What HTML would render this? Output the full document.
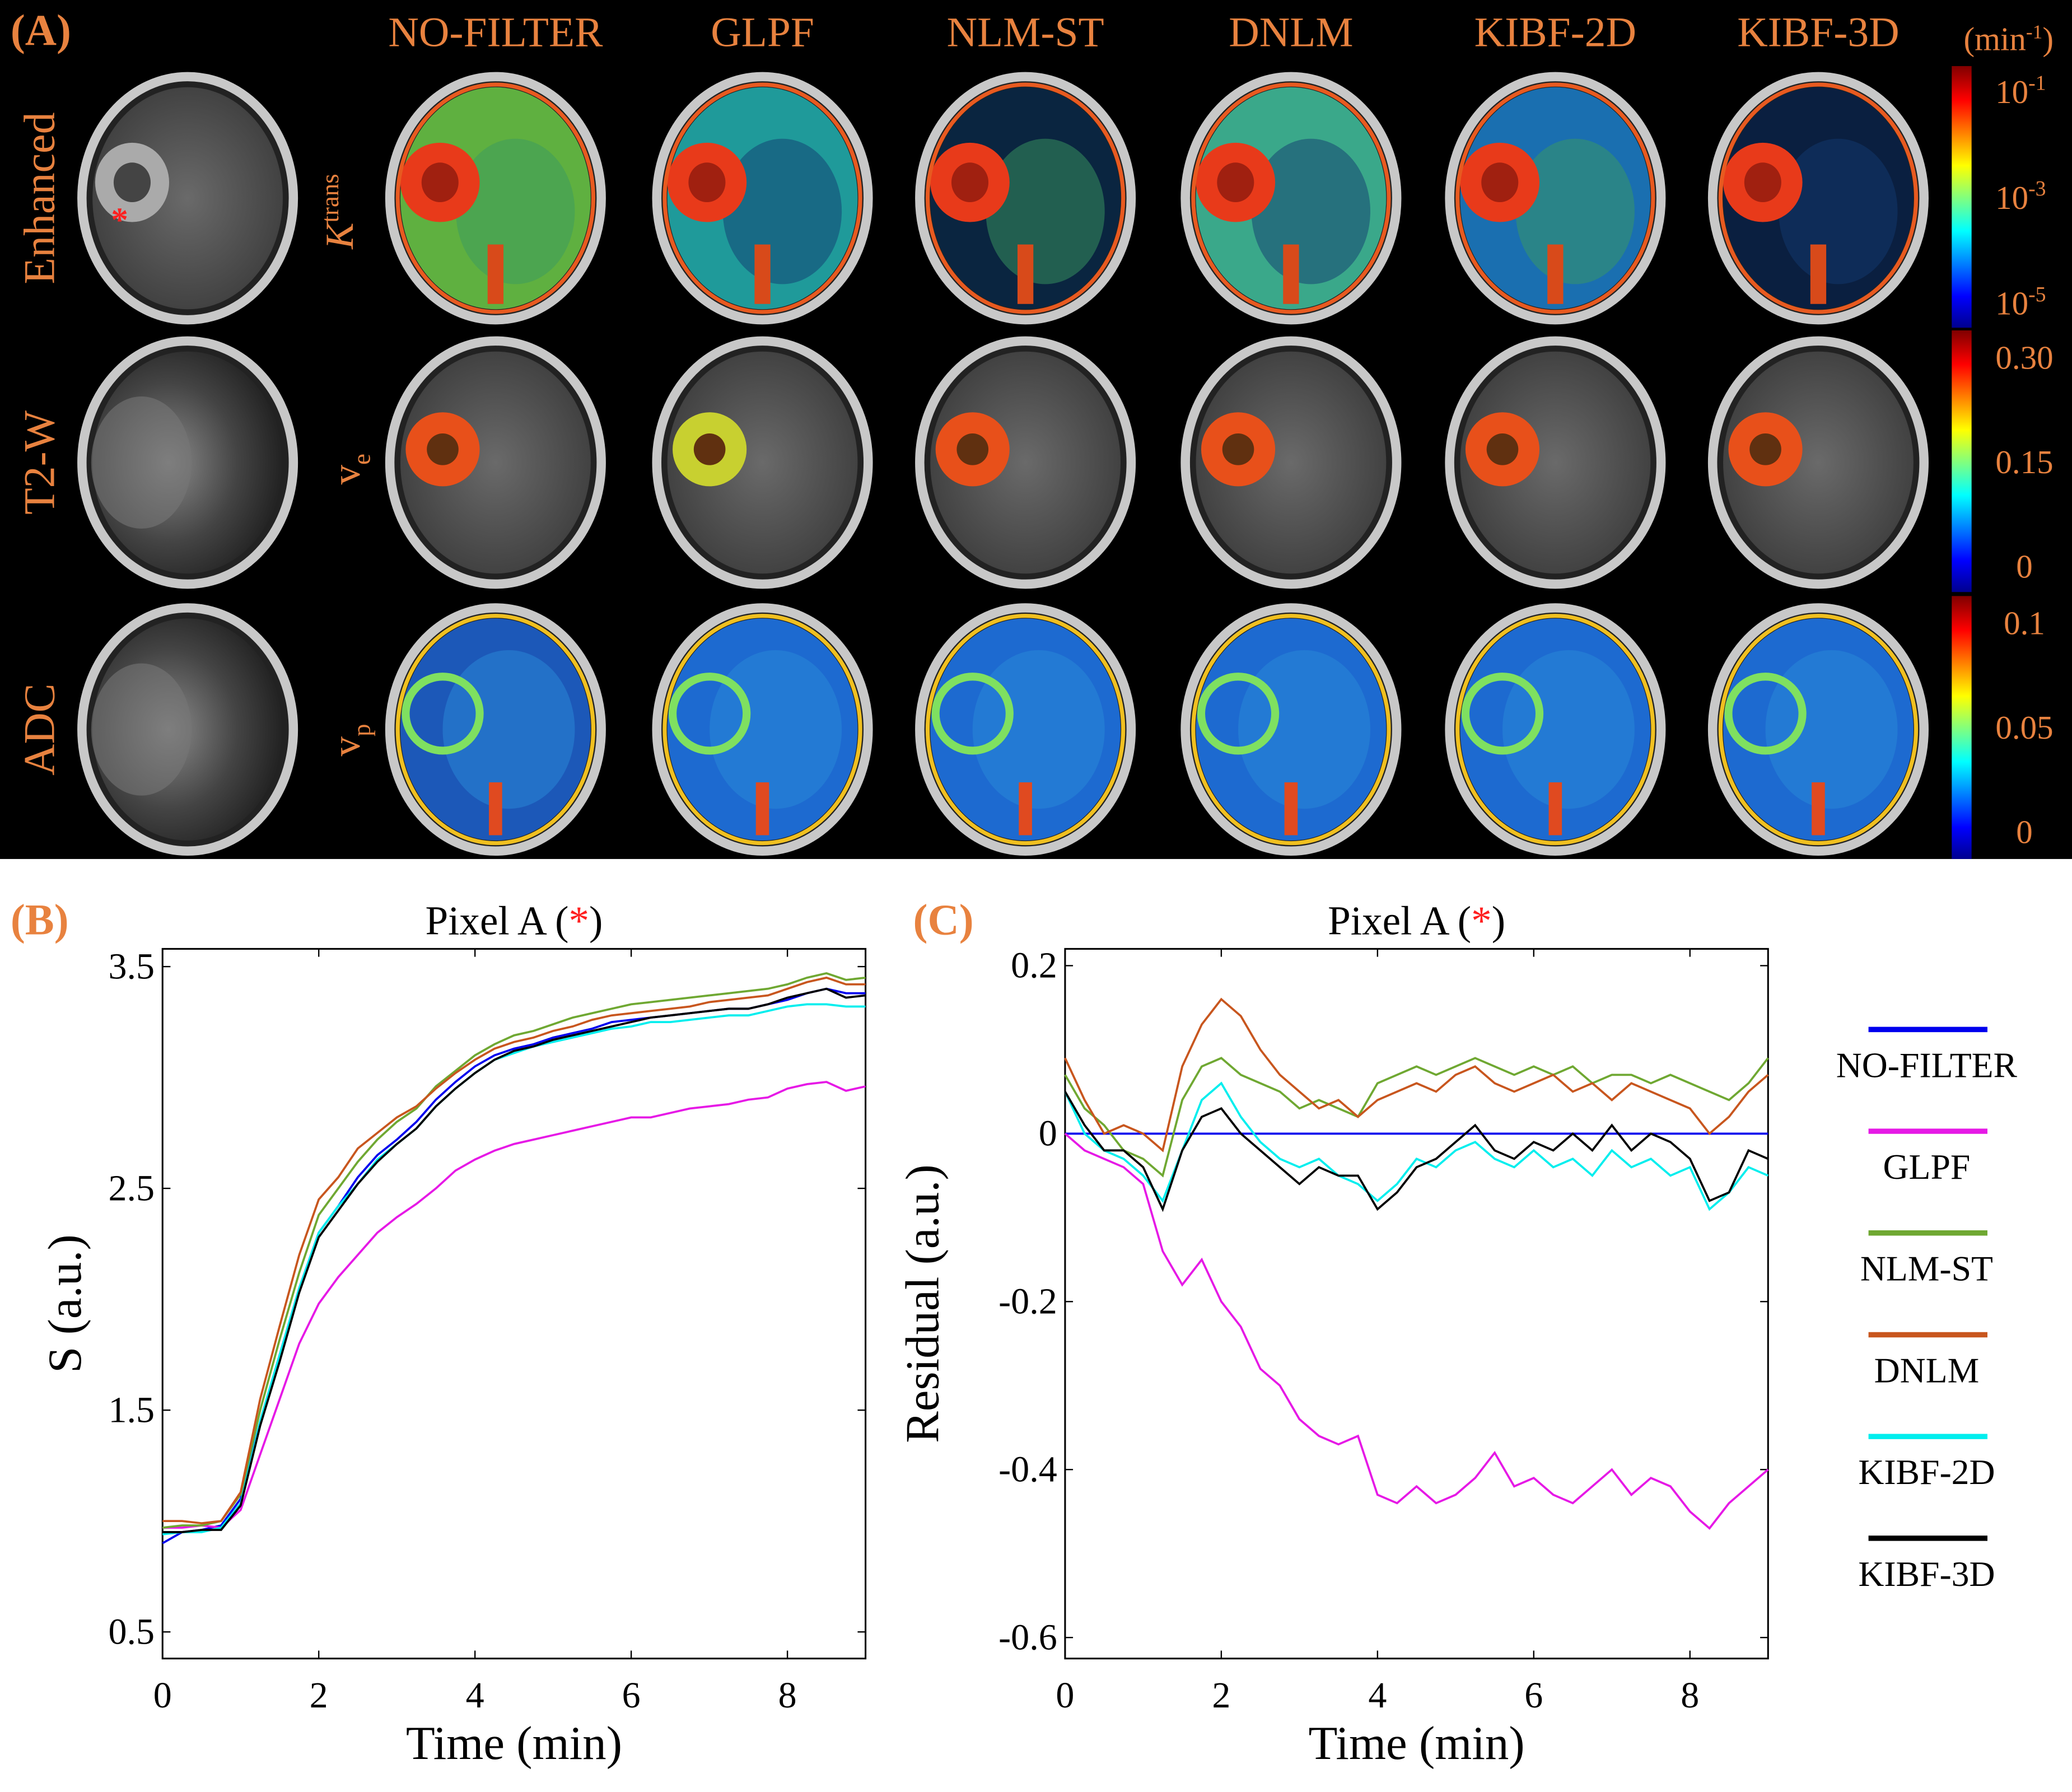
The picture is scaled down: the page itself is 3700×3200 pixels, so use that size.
<!DOCTYPE html>
<html><head><meta charset="utf-8"><style>
html,body{margin:0;padding:0;background:#fff}
svg{display:block}
text{font-family:"Liberation Serif",serif}
</style></head><body>
<svg id="fig" width="3700" height="3200" viewBox="0 0 1568 1356" preserveAspectRatio="none" xmlns="http://www.w3.org/2000/svg">
<defs>
<linearGradient id="jet" x1="0" y1="1" x2="0" y2="0">
<stop offset="0" stop-color="#00008f"/><stop offset="0.12" stop-color="#0000ff"/><stop offset="0.37" stop-color="#00ffff"/><stop offset="0.62" stop-color="#ffff00"/><stop offset="0.87" stop-color="#ff0000"/><stop offset="1" stop-color="#800000"/>
</linearGradient>
<radialGradient id="gray" cx="0.5" cy="0.5" r="0.6"><stop offset="0" stop-color="#6a6a6a"/><stop offset="1" stop-color="#3a3a3a"/></radialGradient>
<radialGradient id="t2" cx="0.4" cy="0.5" r="0.6"><stop offset="0" stop-color="#8a8a8a"/><stop offset="0.6" stop-color="#444"/><stop offset="1" stop-color="#222"/></radialGradient>
</defs>
<rect x="0" y="0" width="1568" height="650" fill="#000"/>
<g id="topPanel"></g>
<g id="chartB"></g>
<g id="chartC"></g>
</svg>
<script>
// ---------- chart data ----------
const times = [0,0.25,0.5,0.75,1,1.25,1.5,1.75,2,2.25,2.5,2.75,3,3.25,3.5,3.75,4,4.25,4.5,4.75,5,5.25,5.5,5.75,6,6.25,6.5,6.75,7,7.25,7.5,7.75,8,8.25,8.5,8.75,9];
const seriesNames = ["NO-FILTER","GLPF","NLM-ST","DNLM","KIBF-2D","KIBF-3D"];
const seriesColors = ["#0000ee","#e619e6","#6fa832","#c8561e","#00eeee","#000000"];
const sNoFilter = [0.9,0.95,0.96,0.98,1.1,1.45,1.75,2.05,2.3,2.42,2.55,2.65,2.72,2.8,2.9,2.98,3.05,3.1,3.13,3.15,3.18,3.2,3.22,3.25,3.26,3.27,3.28,3.29,3.3,3.31,3.31,3.33,3.35,3.38,3.4,3.38,3.38];
const sGLPF = [0.97,0.97,0.98,0.97,1.05,1.3,1.55,1.8,1.98,2.1,2.2,2.3,2.37,2.43,2.5,2.58,2.63,2.67,2.7,2.72,2.74,2.76,2.78,2.8,2.82,2.82,2.84,2.86,2.87,2.88,2.9,2.91,2.95,2.97,2.98,2.94,2.96];
const sNLM = [0.97,0.98,0.98,1.0,1.12,1.5,1.82,2.12,2.38,2.5,2.62,2.72,2.8,2.86,2.96,3.03,3.1,3.15,3.19,3.21,3.24,3.27,3.29,3.31,3.33,3.34,3.35,3.36,3.37,3.38,3.39,3.4,3.42,3.45,3.47,3.44,3.45];
const sDNLM = [1.0,1.0,0.99,1.0,1.13,1.55,1.88,2.2,2.45,2.55,2.68,2.75,2.82,2.87,2.95,3.02,3.08,3.13,3.16,3.18,3.21,3.23,3.26,3.28,3.29,3.3,3.31,3.32,3.34,3.35,3.36,3.37,3.4,3.43,3.45,3.42,3.42];
const sKIBF2 = [0.94,0.95,0.95,0.97,1.08,1.45,1.75,2.05,2.3,2.42,2.52,2.63,2.7,2.77,2.87,2.95,3.02,3.08,3.11,3.14,3.16,3.18,3.2,3.22,3.23,3.25,3.25,3.26,3.27,3.28,3.28,3.3,3.32,3.33,3.33,3.32,3.32];
const sKIBF3 = [0.95,0.95,0.96,0.96,1.07,1.43,1.72,2.03,2.28,2.4,2.52,2.62,2.7,2.77,2.87,2.95,3.02,3.08,3.12,3.14,3.17,3.19,3.21,3.23,3.25,3.27,3.28,3.29,3.3,3.31,3.31,3.33,3.36,3.38,3.4,3.36,3.37];
const rNoFilter = [0,0,0,0,0,0,0,0,0,0,0,0,0,0,0,0,0,0,0,0,0,0,0,0,0,0,0,0,0,0,0,0,0,0,0,0,0];
const rGLPF = [0,-0.02,-0.03,-0.04,-0.06,-0.14,-0.18,-0.15,-0.2,-0.23,-0.28,-0.3,-0.34,-0.36,-0.37,-0.36,-0.43,-0.44,-0.42,-0.44,-0.43,-0.41,-0.38,-0.42,-0.41,-0.43,-0.44,-0.42,-0.4,-0.43,-0.41,-0.42,-0.45,-0.47,-0.44,-0.42,-0.4];
const rNLM = [0.07,0.03,0.01,-0.02,-0.03,-0.05,0.04,0.08,0.09,0.07,0.06,0.05,0.03,0.04,0.03,0.02,0.06,0.07,0.08,0.07,0.08,0.09,0.08,0.07,0.08,0.07,0.08,0.06,0.07,0.07,0.06,0.07,0.06,0.05,0.04,0.06,0.09];
const rDNLM = [0.09,0.04,0.0,0.01,0.0,-0.02,0.08,0.13,0.16,0.14,0.1,0.07,0.05,0.03,0.04,0.02,0.04,0.05,0.06,0.05,0.07,0.08,0.06,0.05,0.06,0.07,0.05,0.06,0.04,0.06,0.05,0.04,0.03,0.0,0.02,0.05,0.07];
const rKIBF2 = [0.05,0.0,-0.02,-0.03,-0.05,-0.08,-0.02,0.04,0.06,0.02,-0.01,-0.03,-0.04,-0.03,-0.05,-0.06,-0.08,-0.06,-0.03,-0.04,-0.02,-0.01,-0.03,-0.04,-0.02,-0.04,-0.03,-0.05,-0.02,-0.04,-0.03,-0.05,-0.04,-0.09,-0.07,-0.04,-0.05];
const rKIBF3 = [0.05,0.01,-0.02,-0.02,-0.04,-0.09,-0.02,0.02,0.03,0.0,-0.02,-0.04,-0.06,-0.04,-0.05,-0.05,-0.09,-0.07,-0.04,-0.03,-0.01,0.01,-0.02,-0.03,-0.01,-0.02,0.0,-0.02,0.01,-0.02,0.0,-0.01,-0.03,-0.08,-0.07,-0.02,-0.03];
const xTicks = [0,2,4,6,8];
const yTicksB = [0.5,1.5,2.5,3.5];
const yTicksC = [0.2,0,-0.2,-0.4,-0.6];
const yTickLabelsC = ["0.2","0","-0.2","-0.4","-0.6"];

const NS = "http://www.w3.org/2000/svg";
function mk(tag, attrs, parent, txt){
  const e = document.createElementNS(NS, tag);
  for (const k in attrs) e.setAttribute(k, attrs[k]);
  if (txt !== undefined) e.textContent = txt;
  parent.appendChild(e);
  return e;
}
const ORANGE = "#e8823f";

// ---------- panel A ----------
const topG = document.getElementById("topPanel");
const lblA = mk("text",{x:8,y:34,"font-size":33,"font-weight":"bold",fill:ORANGE},topG,"(A)");


const colX = [375,577,776,977,1177,1376];
colX.forEach((x,i)=>{
  const h = mk("text",{x:x,y:35,"font-size":32,fill:ORANGE,"text-anchor":"middle"},topG,seriesNames[i]);
  
  
});
const rowY = [150,350,552];
const rowLabels = ["Enhanced","T2-W","ADC"];
rowLabels.forEach((l,i)=>{
  const e = mk("text",{x:0,y:0,"font-size":33,fill:ORANGE,"text-anchor":"middle",transform:`translate(41,${rowY[i]}) rotate(-90)`},topG,l);
  
  
});
const pk = mk("text",{x:0,y:0,"font-size":30,fill:ORANGE,"text-anchor":"middle","font-style":"italic",transform:"translate(267,160) rotate(-90)"},topG);


mk("tspan",{},pk,"K");
mk("tspan",{"font-size":19,"font-style":"normal",dy:-11},pk,"trans");
const pv = mk("text",{x:0,y:0,"font-size":30,fill:ORANGE,"text-anchor":"middle",transform:"translate(272,355) rotate(-90)"},topG);


mk("tspan",{},pv,"v");
mk("tspan",{"font-size":19,dy:8},pv,"e");
const pp = mk("text",{x:0,y:0,"font-size":30,fill:ORANGE,"text-anchor":"middle",transform:"translate(272,560) rotate(-90)"},topG);


mk("tspan",{},pp,"v");
mk("tspan",{"font-size":19,dy:8},pp,"p");

const kFill = ["#5fb040","#1f9a9a","#0a2540","#3aa88a","#1a6fb0","#0a1f40"];
function brain(cx,cy,kind,i,name){
  const g = mk("g",{},topG);
  
  
  mk("ellipse",{cx:cx,cy:cy,rx:80,ry:92,fill:"#222",stroke:"#c8c8c8","stroke-width":7},g);
  let fill="url(#gray)";
  if(kind==="t2"||kind==="adc") fill="url(#t2)";
  if(kind==="k") fill=kFill[i];
  if(kind==="vp") fill= i===0?"#1c58b8":"#1d6ad0";
  mk("ellipse",{cx:cx,cy:cy,rx:72,ry:84,fill:fill},g);
  if(kind==="k"){
    mk("ellipse",{cx:cx+15,cy:cy+10,rx:45,ry:55,fill:i%2?"#123a70":"#3a9a60",opacity:0.5},g);
    mk("ellipse",{cx:cx-42,cy:cy-12,rx:30,ry:30,fill:"#e83a1a"},g);
    mk("ellipse",{cx:cx-42,cy:cy-12,rx:14,ry:15,fill:"#a02010"},g);
    mk("rect",{x:cx-6,y:cy+35,width:12,height:45,fill:"#d84a1a"},g);
    mk("ellipse",{cx:cx,cy:cy,rx:74,ry:86,fill:"none",stroke:"#e85a20","stroke-width":3},g);
  } else if(kind==="ve"){
    mk("ellipse",{cx:cx-40,cy:cy-10,rx:28,ry:28,fill:i===1?"#c8d030":"#e8501a"},g);
    mk("ellipse",{cx:cx-40,cy:cy-10,rx:12,ry:12,fill:"#603010"},g);
  } else if(kind==="vp"){
    mk("ellipse",{cx:cx+10,cy:cy,rx:50,ry:60,fill:"#2a8ad8",opacity:0.5},g);
    mk("ellipse",{cx:cx-40,cy:cy-12,rx:28,ry:28,fill:"none",stroke:"#7fe060","stroke-width":6},g);
    mk("rect",{x:cx-5,y:cy+40,width:10,height:40,fill:"#e04a20"},g);
    mk("ellipse",{cx:cx,cy:cy,rx:74,ry:86,fill:"none",stroke:"#f0c020","stroke-width":3},g);
  } else if(kind==="enh"){
    mk("ellipse",{cx:cx-42,cy:cy-12,rx:28,ry:30,fill:"#aaa"},g);
    mk("ellipse",{cx:cx-42,cy:cy-12,rx:14,ry:15,fill:"#444"},g);
    mk("text",{x:cx-58,y:cy+25,"font-size":26,fill:"#ff2020","font-weight":"bold"},g,"*");
  } else {
    mk("ellipse",{cx:cx-35,cy:cy,rx:38,ry:50,fill:"#777",opacity:0.6},g);
  }
}
brain(142,rowY[0],"enh",0,"enhanced-image");
brain(142,rowY[1],"t2",0,"t2w-image");
brain(142,rowY[2],"adc",0,"adc-image");
colX.forEach((x,i)=>{
  brain(x,rowY[0],"k",i,"ktrans-map-"+i);
  brain(x,rowY[1],"ve",i,"ve-map-"+i);
  brain(x,rowY[2],"vp",i,"vp-map-"+i);
});
[[50,198],[250,198],[451,199]].forEach((s,i)=>{
  const r = mk("rect",{x:1477,y:s[0],width:15,height:s[1],fill:"url(#jet)"},topG);
  
  
});
const cu = mk("text",{x:1486,y:38,"font-size":25,fill:ORANGE},topG);


mk("tspan",{},cu,"(min");
mk("tspan",{"font-size":15,dy:-9},cu,"-1");
mk("tspan",{dy:9},cu,")");
[["10","-1",78],["10","-3",158],["10","-5",238]].forEach((v,i)=>{
  const e = mk("text",{x:1510,y:v[2],"font-size":25,fill:ORANGE},topG);
  
  
  mk("tspan",{},e,v[0]);
  mk("tspan",{"font-size":16,dy:-10},e,v[1]);
});
[["0.30",279],["0.15",358],["0",437],["0.1",480],["0.05",559],["0",638]].forEach((v,i)=>{
  const e = mk("text",{x:1532,y:v[1],"font-size":25,fill:ORANGE,"text-anchor":"middle"},topG,v[0]);
  
  
});

// ---------- line charts ----------
function chart(gid, box, ylim, yTicks, yLabels, series, ylabel, yOff, panel, withLegend){
  const g = document.getElementById(gid);
  const L=box[0], T=box[1], R=box[2], B=box[3];
  const xs = v => L + v/9*(R-L);
  const ys = v => B - (v-ylim[0])/(ylim[1]-ylim[0])*(B-T);
  const frame = mk("rect",{x:L,y:T,width:R-L,height:B-T,fill:"none",stroke:"#000","stroke-width":1.3},g);
  
  
  xTicks.forEach(v=>{
    mk("line",{x1:xs(v),x2:xs(v),y1:B,y2:B-6,stroke:"#000"},g);
    mk("line",{x1:xs(v),x2:xs(v),y1:T,y2:T+6,stroke:"#000"},g);
    const e = mk("text",{x:xs(v),y:B+37,"font-size":28,"text-anchor":"middle"},g,String(v));
    
    
  });
  yTicks.forEach((v,i)=>{
    mk("line",{x1:L,x2:L+6,y1:ys(v),y2:ys(v),stroke:"#000"},g);
    mk("line",{x1:R,x2:R-6,y1:ys(v),y2:ys(v),stroke:"#000"},g);
    const e = mk("text",{x:L-6,y:ys(v)+9,"font-size":28,"text-anchor":"end"},g,yLabels[i]);
    
    
  });
  series.forEach((s,k)=>{
    const d = times.map((tm,j)=>(j?"L":"M")+xs(tm).toFixed(2)+","+ys(s[j]).toFixed(2)).join("");
    const p = mk("path",{d:d,fill:"none",stroke:seriesColors[k],"stroke-width":1.6},g);
    
    
  });
  const ttl = mk("text",{x:(L+R)/2,y:T-11,"font-size":31,"text-anchor":"middle"},g);
  
  
  mk("tspan",{},ttl,"Pixel A (");
  mk("tspan",{fill:"#ff2020"},ttl,"*");
  mk("tspan",{},ttl,")");
  const pl = mk("text",{x:L-115,y:T-11,"font-size":33,"font-weight":"bold",fill:ORANGE},g,panel);
  
  
  const xl = mk("text",{x:(L+R)/2,y:B+76,"font-size":36,"text-anchor":"middle"},g,"Time (min)");
  
  
  const yl = mk("text",{x:0,y:0,"font-size":36,"text-anchor":"middle",transform:`translate(${L-yOff},${(T+B)/2}) rotate(-90)`},g,ylabel);
  
  
  if(withLegend){
    seriesNames.forEach((n,k)=>{
      const y0 = 779 + k*77;
      const ln = mk("line",{x1:1414,x2:1504,y1:y0,y2:y0,stroke:seriesColors[k],"stroke-width":4},g);
      
      
      const lt = mk("text",{x:1458,y:y0+36,"font-size":27,"text-anchor":"middle"},g,n);
      
      
    });
  }
}
chart("chartB",[123,718,655,1255],[0.38,3.58],yTicksB,yTicksB.map(String),
  [sNoFilter,sGLPF,sNLM,sDNLM,sKIBF2,sKIBF3],"S (a.u.)",62,"(B)",false);
chart("chartC",[806,718,1338,1255],[-0.625,0.22],yTicksC,yTickLabelsC,
  [rNoFilter,rGLPF,rNLM,rDNLM,rKIBF2,rKIBF3],"Residual (a.u.)",96,"(C)",true);
</script>
</body></html>
